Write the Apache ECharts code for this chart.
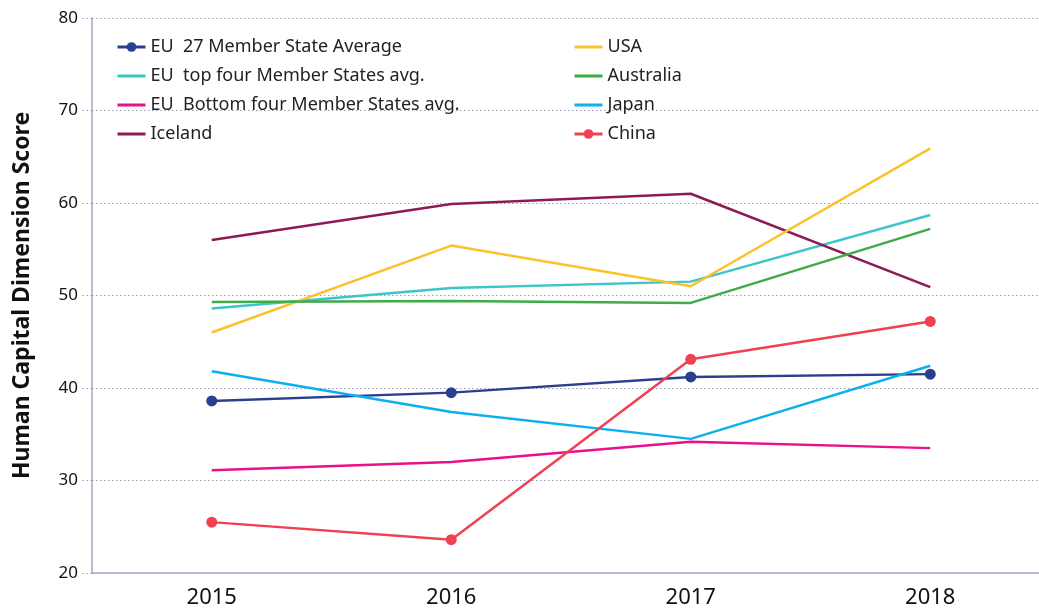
<!DOCTYPE html>
<html>
<head>
<meta charset="utf-8">
<script src="https://cdn.jsdelivr.net/npm/echarts@6/dist/echarts.min.js"></script>
<style>
html, body { margin: 0; padding: 0; background: #fff; overflow: hidden; }
#chart { width: 1050px; height: 612px; }
</style>
</head>
<body>
<div id="chart"></div>
<script>
// data
var years = ['2015', '2016', '2017', '2018'];
var eu27 = [38.6, 39.5, 41.2, 41.5];
var euTop4 = [48.6, 50.8, 51.5, 58.7];
var euBottom4 = [31.1, 32.0, 34.2, 33.5];
var iceland = [56.0, 59.9, 61.0, 50.9];
var usa = [46.0, 55.4, 51.0, 65.9];
var australia = [49.3, 49.4, 49.2, 57.2];
var japan = [41.8, 37.4, 34.5, 42.4];
var china = [25.5, 23.6, 43.1, 47.2];

var names = {
    eu27: 'EU  27 Member State Average',
    top4: 'EU  top four Member States avg.',
    bottom4: 'EU  Bottom four Member States avg.',
    iceland: 'Iceland',
    usa: 'USA',
    australia: 'Australia',
    japan: 'Japan',
    china: 'China'
};

var chart = echarts.init(document.getElementById('chart'));

function line(name, data, color, marker) {
    return {
        name: name,
        type: 'line',
        data: data,
        symbol: marker ? 'circle' : 'none',
        symbolSize: 11,
        lineStyle: { width: 2.5, color: color },
        itemStyle: { color: color },
        emphasis: { disabled: true }
    };
}

// one legend block per group, so line-only entries get a tiny icon height
function legend(left, row, items, marker) {
    return {
        orient: 'vertical',
        left: left,
        top: 33 + row * 29,
        itemWidth: 28,
        itemHeight: marker ? 12 : 2,
        itemGap: 11,
        lineStyle: { width: 3 },
        textStyle: { fontFamily: 'Noto Sans', fontSize: 18, color: '#222' },
        data: items
    };
}

var gridGrey = '#9a9db5';

var option = {
    animation: false,
    textStyle: { fontFamily: 'Noto Sans' },
    grid: { left: 92, right: 0, top: 18, bottom: 39 },
    legend: [
        legend(111, 0, [names.eu27], true),
        legend(111, 1, [names.top4, names.bottom4, names.iceland], false),
        legend(568, 0, [names.usa, names.australia, names.japan], false),
        legend(568, 3, [names.china], true)
    ],
    xAxis: {
        type: 'category',
        data: years,
        boundaryGap: true,
        axisLine: { lineStyle: { color: '#a4a8bd', width: 1.5 } },
        axisTick: { show: false },
        axisLabel: { fontSize: 22, color: '#111', margin: 14, fontFamily: 'Noto Sans' }
    },
    yAxis: {
        type: 'value',
        min: 20,
        max: 80,
        interval: 10,
        name: 'Human Capital Dimension Score',
        nameLocation: 'middle',
        nameGap: 58,
        nameTextStyle: { fontSize: 23, fontWeight: 'bold', color: '#111', fontFamily: 'Noto Sans' },
        axisLine: { show: true, lineStyle: { color: '#a4a8bd', width: 1.5 } },
        axisTick: { show: true, length: 11, lineStyle: { color: gridGrey, type: [1.5, 2.5] } },
        axisLabel: { fontSize: 17, color: '#111', margin: 14, fontFamily: 'Noto Sans' },
        splitLine: { lineStyle: { color: gridGrey, type: [1.5, 2.5], width: 1 } }
    },
    series: [
        line(names.eu27, eu27, '#2a3f8e', true),
        line(names.top4, euTop4, '#3ec5c9', false),
        line(names.bottom4, euBottom4, '#ea0f8a', false),
        line(names.iceland, iceland, '#8c1b55', false),
        line(names.usa, usa, '#fbc22b', false),
        line(names.australia, australia, '#3fab49', false),
        line(names.japan, japan, '#0db0ef', false),
        line(names.china, china, '#ef4152', true)
    ]
};

chart.setOption(option);
</script>
</body>
</html>
